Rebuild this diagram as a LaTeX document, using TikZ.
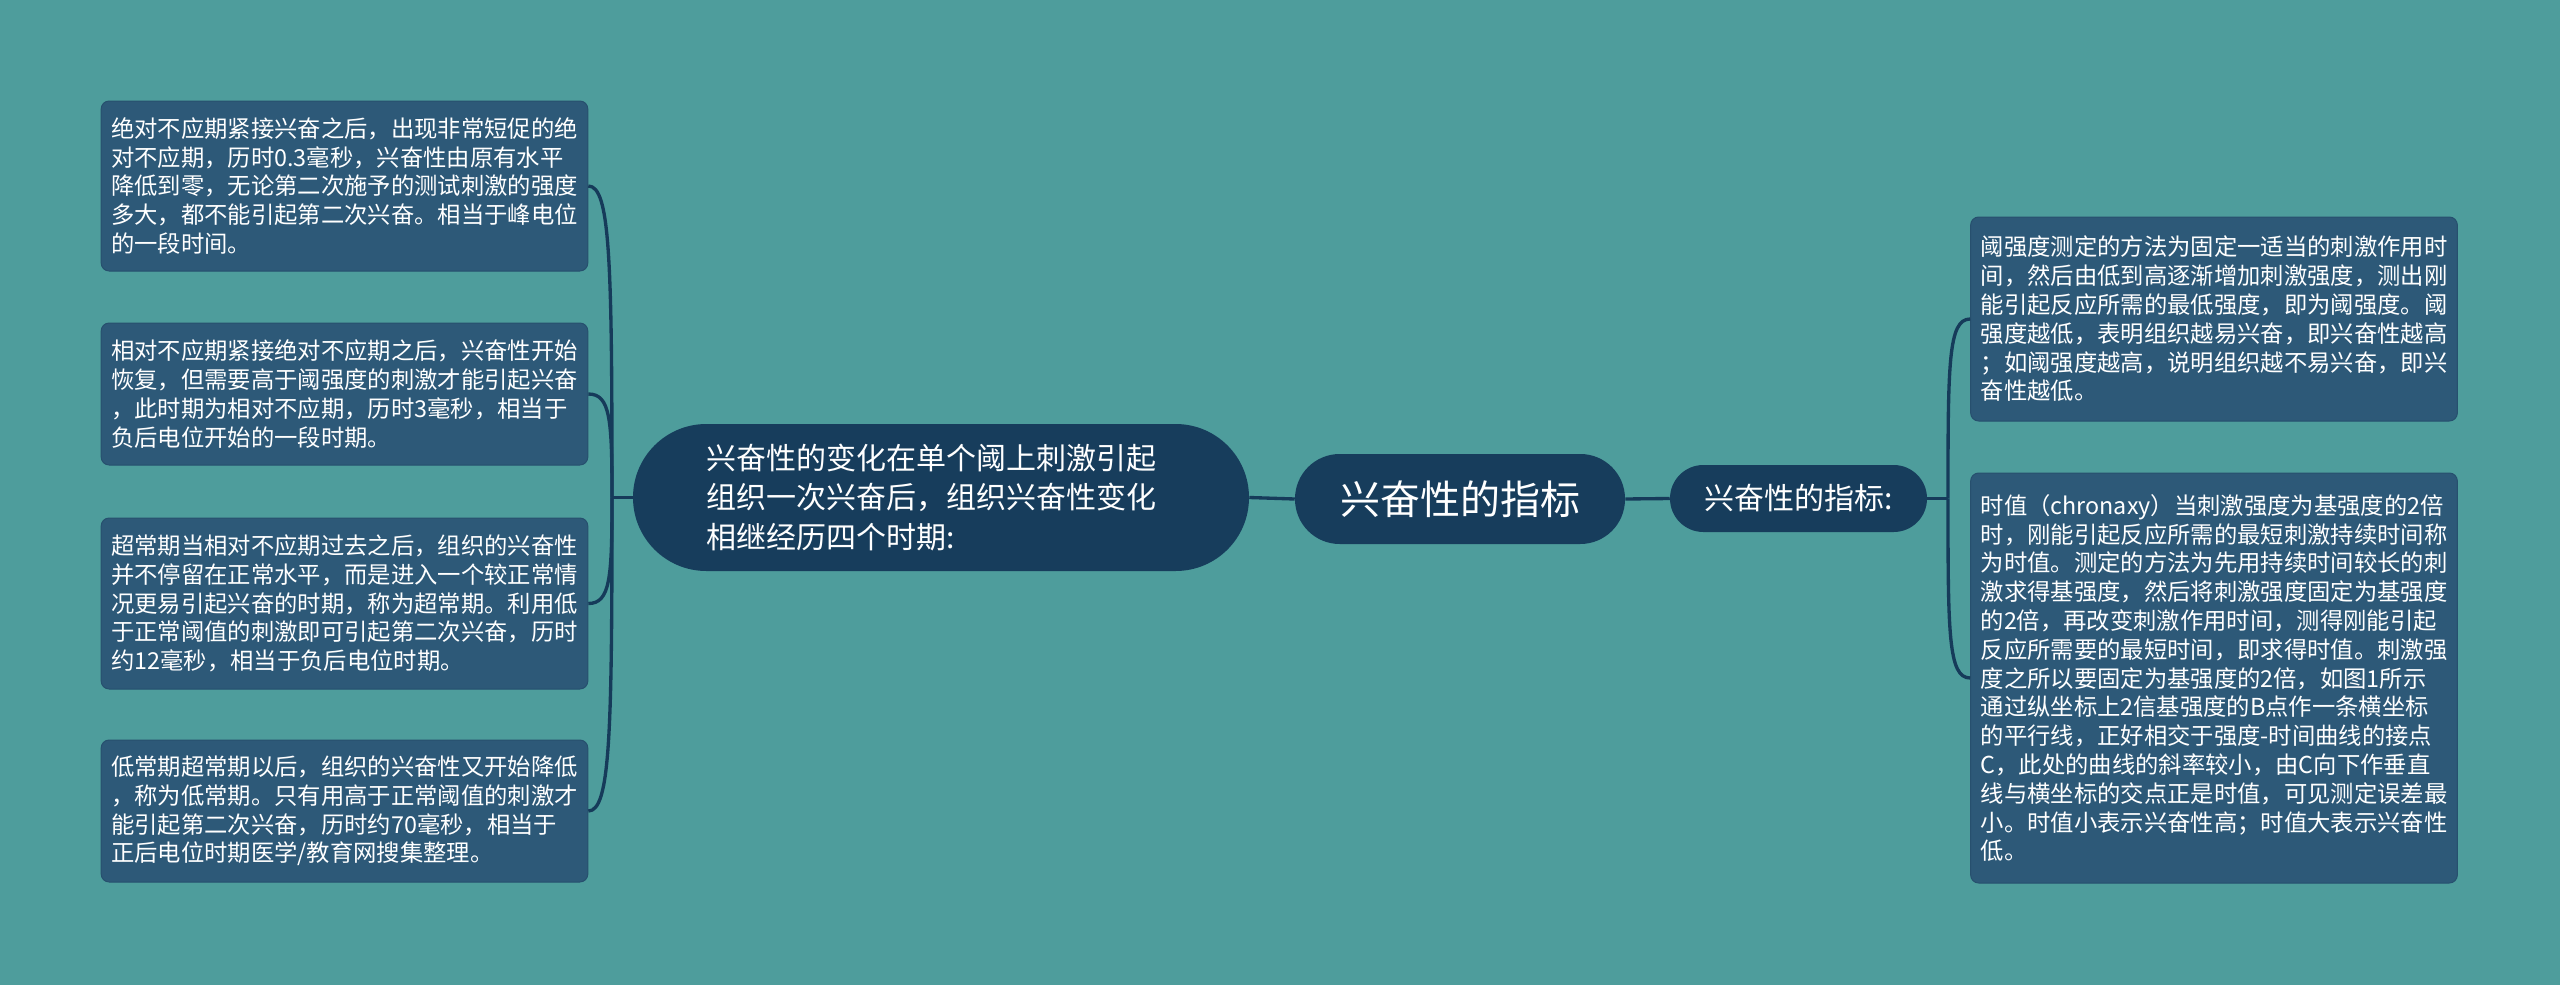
\documentclass[tikz,border=0pt]{standalone}
\usepackage{fontspec}
\newfontfamily\cjk{Noto Sans CJK SC}
\usepackage{tikz}
\usepackage{xcolor}

\definecolor{bgteal}{HTML}{4E9D9C}
\definecolor{leafblue}{HTML}{2D5978}
\definecolor{leafline}{HTML}{27506E}
\definecolor{topicnavy}{HTML}{173D5C}
\definecolor{linknavy}{HTML}{163B5A}

\tikzset{
  leaf/.style={draw=leafline, fill=leafblue, line width=0.75pt, rounded corners=6pt, text=white,
    font=\cjk\fontsize{17.5}{21.6}\selectfont, text width=350pt, align=left,
    inner xsep=7.5pt, inner ysep=0pt, minimum width=365pt},
  topic/.style={fill=topicnavy, text=white, inner sep=0pt},
  link/.style={draw=linknavy, line width=2.5pt},
}

\begin{document}
\begin{tikzpicture}[x=0.75pt,y=0.75pt,yscale=-1,xscale=1]
    %set diagram: 2560 wide, 985 high
    \useasboundingbox (0,0) rectangle (2560,985);
    \fill[bgteal] (0,0) rectangle (2560,985);

    % Text Node
    \node[topic, rounded corners=33.5pt, minimum width=247.5pt, minimum height=67.5pt,
      font=\cjk\fontsize{30}{36}\selectfont] (nRoot) at (1460,499) {兴奋性的指标};
    % Text Node
    \node[topic, rounded corners=55pt, minimum width=462pt, minimum height=110.25pt,
      text width=352pt, align=left, font=\cjk\fontsize{22.5}{29.4}\selectfont] (nChange) at (941,497.5)
      {兴奋性的变化在单个阈上刺激引起\\组织一次兴奋后，组织兴奋性变化\\相继经历四个时期:};
    % Text Node
    \node[topic, rounded corners=25pt, minimum width=192.75pt, minimum height=50.25pt,
      font=\cjk\fontsize{22.5}{27}\selectfont] (nIndex) at (1798.5,498.5) {兴奋性的指标:};

    % Text Node
    \node[leaf, minimum height=127.5pt] (nAbs) at (344.5,186)
      {绝对不应期紧接兴奋之后，出现非常短促的绝\\对不应期，历时0.3毫秒，兴奋性由原有水平\\降低到零，无论第二次施予的测试刺激的强度\\多大，都不能引起第二次兴奋。相当于峰电位\\的一段时间。};
    % Text Node
    \node[leaf, minimum height=106.5pt] (nRel) at (344.5,394)
      {相对不应期紧接绝对不应期之后，兴奋性开始\\恢复，但需要高于阈强度的刺激才能引起兴奋\\，此时期为相对不应期，历时3毫秒，相当于\\负后电位开始的一段时期。};
    % Text Node
    \node[leaf, minimum height=128.25pt] (nSupra) at (344.5,603.5)
      {超常期当相对不应期过去之后，组织的兴奋性\\并不停留在正常水平，而是进入一个较正常情\\况更易引起兴奋的时期，称为超常期。利用低\\于正常阈值的刺激即可引起第二次兴奋，历时\\约12毫秒，相当于负后电位时期。};
    % Text Node
    \node[leaf, minimum height=106.5pt] (nSub) at (344.5,811)
      {低常期超常期以后，组织的兴奋性又开始降低\\，称为低常期。只有用高于正常阈值的刺激才\\能引起第二次兴奋，历时约70毫秒，相当于\\正后电位时期医学/教育网搜集整理。};

    % Text Node
    \node[leaf, minimum height=153pt] (nThresh) at (2214,319)
      {阈强度测定的方法为固定一适当的刺激作用时\\间，然后由低到高逐渐增加刺激强度，测出刚\\能引起反应所需的最低强度，即为阈强度。阈\\强度越低，表明组织越易兴奋，即兴奋性越高\\；如阈强度越高，说明组织越不易兴奋，即兴\\奋性越低。};
    % Text Node
    \node[leaf, minimum height=307.5pt] (nChron) at (2214,678)
      {时值（chronaxy）当刺激强度为基强度的2倍\\时，刚能引起反应所需的最短刺激持续时间称\\为时值。测定的方法为先用持续时间较长的刺\\激求得基强度，然后将刺激强度固定为基强度\\的2倍，再改变刺激作用时间，测得刚能引起\\反应所需要的最短时间，即求得时值。刺激强\\度之所以要固定为基强度的2倍，如图1所示\\通过纵坐标上2信基强度的B点作一条横坐标\\的平行线，正好相交于强度-时间曲线的接点\\C，此处的曲线的斜率较小，由C向下作垂直\\线与横坐标的交点正是时值，可见测定误差最\\小。时值小表示兴奋性高；时值大表示兴奋性\\低。};

    %Straight Lines
    \coordinate (jl) at (612,497.5);
    \coordinate (jr) at (1948,498.5);
    \draw[link] (nChange.east) -- (nRoot.west);
    \draw[link] (nRoot.east) -- (nIndex.west);
    \draw[link] (nChange.west) -- (jl);
    \draw[link] (nIndex.east) -- (jr);

    %Curves to the leaves
    \draw[link] (nAbs.east) .. controls +(22,0) and +(0,-235) .. (jl);
    \draw[link] (nRel.east) .. controls +(22,0) and +(0,-78) .. (jl);
    \draw[link] (nSupra.east) .. controls +(22,0) and +(0,80) .. (jl);
    \draw[link] (nSub.east) .. controls +(22,0) and +(0,235) .. (jl);
    \draw[link] (jr) .. controls +(0,-135) and +(-22,0) .. (nThresh.west);
    \draw[link] (jr) .. controls +(0,135) and +(-22,0) .. (nChron.west);

\end{tikzpicture}
\end{document}
